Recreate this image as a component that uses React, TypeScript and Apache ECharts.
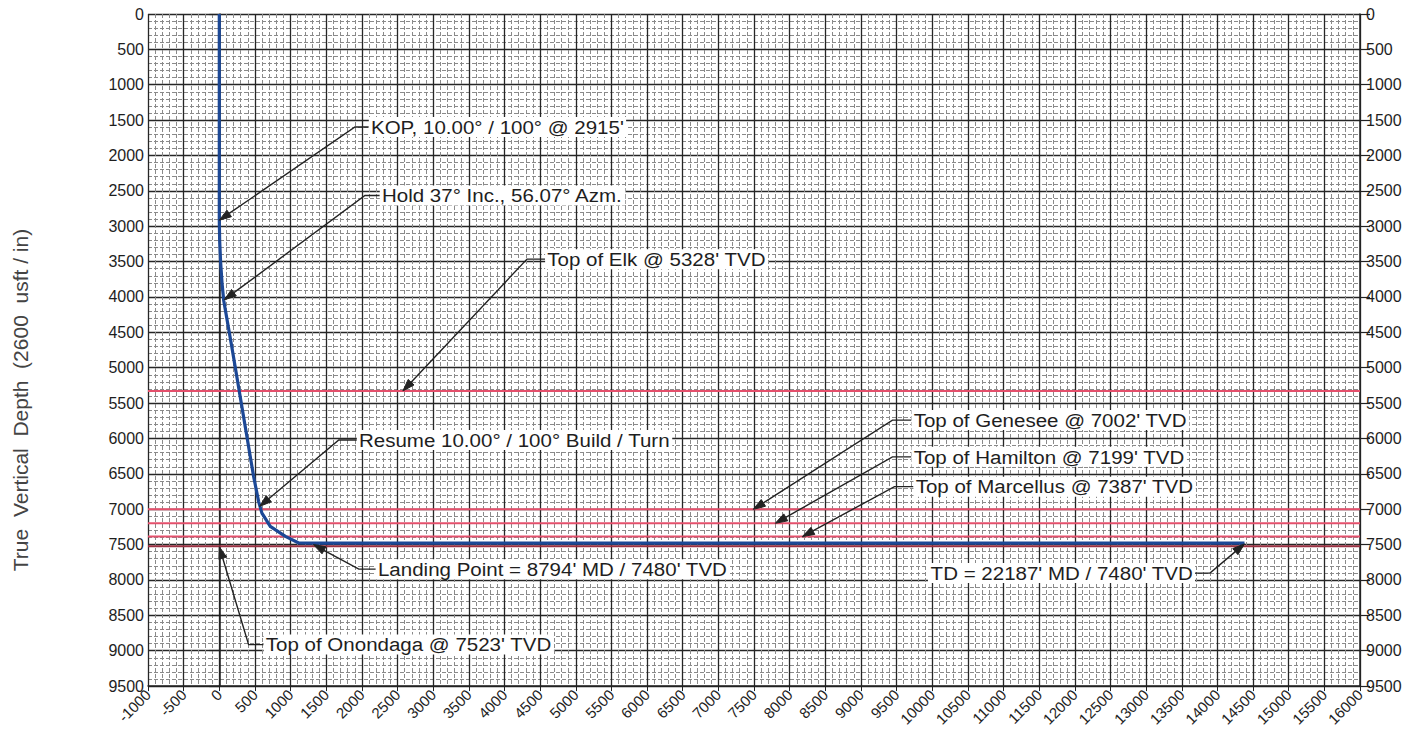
import React, { useEffect, useRef } from "react";
import * as echarts from "echarts";

// ---- Axis ranges (usft) ----
const X_MIN = -1000;
const X_MAX = 16000;
const Y_MIN = 0;
const Y_MAX = 9500;
const STEP = 500;

// ---- Well path: vertical section (usft) vs true vertical depth (usft) ----
const pathVS = [0, 0, 5, 18, 38, 62, 177, 330, 482, 552, 598, 715, 927, 1114, 1300, 14380];
const pathTVD = [0, 2915, 3200, 3500, 3800, 4050, 4715, 5630, 6541, 6892, 7056, 7243, 7383, 7477, 7480, 7480];

// ---- Formation tops (TVD, usft) ----
const formationNames = ["Elk", "Genesee", "Hamilton", "Marcellus", "Onondaga"];
const formationTVD = [5328, 7002, 7199, 7387, 7523];
const formationColors = ["#e4506c", "#e4506c", "#e4506c", "#e4506c", "#9a3042"];

// ---- Annotation texts ----
const annTexts = [
  "KOP, 10.00° / 100° @ 2915'",
  "Hold 37° Inc., 56.07° Azm.",
  "Top of Elk @ 5328' TVD",
  "Resume 10.00° / 100° Build / Turn",
  "Top of Genesee @ 7002' TVD",
  "Top of Hamilton @ 7199' TVD",
  "Top of Marcellus @ 7387' TVD",
  "Landing Point = 8794' MD / 7480' TVD",
  "Top of Onondaga @ 7523' TVD",
  "TD = 22187' MD / 7480' TVD",
];
// arrow tips (data coords)
const annTips: [number, number][] = [
  [0, 2915],
  [70, 4040],
  [2575, 5328],
  [565, 6960],
  [7490, 7002],
  [7799, 7199],
  [8178, 7387],
  [1320, 7500],
  [0, 7530],
  [14380, 7490],
];
// leader knees (data coords)
const annKnees: [number, number][] = [
  [1903, 1597],
  [2043, 2566],
  [4316, 3465],
  [1676, 6021],
  [9442, 5740],
  [9442, 6260],
  [9470, 6681],
  [1957, 7847],
  [411, 8914],
  [13896, 7903],
];
// text anchor x (data coords); text sits on knee's depth
const annTextX = [2097, 2251, 4570, 1929, 9709, 9709, 9737, 2195, 622, 13686];
const annAlign = ["left", "left", "left", "left", "left", "left", "left", "left", "left", "right"];

const FONT = '"Liberation Sans", Arial, Helvetica, sans-serif';

export default function App() {
  const ref = useRef<HTMLDivElement>(null);

  useEffect(() => {
    if (!ref.current) return;
    document.body.style.margin = "0";
    const chart = echarts.init(ref.current, null, { renderer: "svg" });

    const formationSeries = formationTVD.map((tvd, i) => ({
      name: formationNames[i],
      type: "line",
      xAxisIndex: 0,
      yAxisIndex: 0,
      data: [
        [X_MIN, tvd],
        [X_MAX, tvd],
      ],
      showSymbol: false,
      silent: true,
      z: 3,
      lineStyle: { color: formationColors[i], width: 2 },
    }));

    const plain = (v: number) => String(v);

    const yAxisBase = {
      type: "value",
      min: Y_MIN,
      max: Y_MAX,
      interval: STEP,
      inverse: true,
      axisLine: { show: true, lineStyle: { color: "#222", width: 1.5 } },
      axisTick: { show: true, length: 10, lineStyle: { color: "#222", width: 1.2 } },
      axisLabel: { color: "#1e1e1e", fontSize: 16, fontFamily: FONT, margin: 4, formatter: plain },
    };

    const minorLine = { show: true, lineStyle: { color: "#8a8a8a", width: 1, type: [4, 2] } };
    const majorLine = { show: true, lineStyle: { color: "#262626", width: 1.3 } };

    chart.setOption({
      animation: false,
      backgroundColor: "#ffffff",
      grid: { left: 148, right: 53, top: 14, bottom: 38, containLabel: false },
      xAxis: {
        type: "value",
        min: X_MIN,
        max: X_MAX,
        interval: STEP,
        axisLine: { show: true, onZero: false, lineStyle: { color: "#222", width: 1.5 } },
        axisTick: { show: true, length: 5, lineStyle: { color: "#222" } },
        axisLabel: { rotate: 45, color: "#1e1e1e", fontSize: 15, fontFamily: FONT, margin: 6, formatter: plain },
        splitLine: majorLine,
        minorTick: { show: false, splitNumber: 5 },
        minorSplitLine: minorLine,
      },
      yAxis: [
        {
          ...yAxisBase,
          position: "left",
          splitLine: majorLine,
          minorTick: { show: false, splitNumber: 5 },
          minorSplitLine: minorLine,
        },
        {
          ...yAxisBase,
          position: "right",
          axisLabel: { ...yAxisBase.axisLabel, margin: 6 },
          splitLine: { show: false },
        },
      ],
      series: [
        ...formationSeries,
        {
          name: "Well Path",
          type: "line",
          xAxisIndex: 0,
          yAxisIndex: 0,
          data: pathVS.map((x, i) => [x, pathTVD[i]]),
          showSymbol: false,
          silent: true,
          z: 5,
          lineStyle: { color: "#1c4896", width: 3.2 },
        },
      ],
    });

    const toPx = (p: [number, number]) =>
      chart.convertToPixel({ xAxisIndex: 0, yAxisIndex: 0 }, p) as number[];

    const graphics: any[] = [];
    annTexts.forEach((text, i) => {
      const tip = toPx(annTips[i]);
      const knee = toPx(annKnees[i]);
      const tx = toPx([annTextX[i], annKnees[i][1]])[0];
      const dx = tip[0] - knee[0];
      const dy = tip[1] - knee[1];
      const len = Math.sqrt(dx * dx + dy * dy) || 1;
      const ux = dx / len;
      const uy = dy / len;
      const headLen = 12;
      const headW = 4;
      const bx = tip[0] - ux * headLen;
      const by = tip[1] - uy * headLen;
      const nx = -uy;
      const ny = ux;
      graphics.push({
        type: "polyline",
        z: 50,
        silent: true,
        shape: { points: [[tx, knee[1]], [knee[0], knee[1]], [bx, by]] },
        style: { stroke: "#222", lineWidth: 1.4, fill: null },
      });
      graphics.push({
        type: "polygon",
        z: 50,
        silent: true,
        shape: {
          points: [
            [tip[0], tip[1]],
            [bx + nx * headW, by + ny * headW],
            [bx - nx * headW, by - ny * headW],
          ],
        },
        style: { fill: "#222", stroke: "#222", lineWidth: 1 },
      });
      graphics.push({
        type: "text",
        z: 60,
        silent: true,
        x: tx,
        y: knee[1],
        scaleX: 1.08,
        style: {
          text,
          fill: "#1e1e1e",
          font: `19px ${FONT}`,
          align: annAlign[i],
          verticalAlign: "middle",
          backgroundColor: "#ffffff",
          padding: [1, 2, 0, 2],
        },
      });
    });

    graphics.push({
      type: "text",
      z: 60,
      silent: true,
      x: 20,
      y: 400,
      rotation: Math.PI / 2,
      style: {
        text: "True  Vertical  Depth  (2600  usft / in)",
        fill: "#444",
        font: `21px ${FONT}`,
        align: "center",
        verticalAlign: "middle",
      },
    });

    chart.setOption({ graphic: graphics });

    return () => {
      chart.dispose();
    };
  }, []);

  return (
    <div
      ref={ref}
      style={{ position: "fixed", left: 0, top: 0, width: 1413, height: 729, background: "#fff" }}
    />
  );
}
